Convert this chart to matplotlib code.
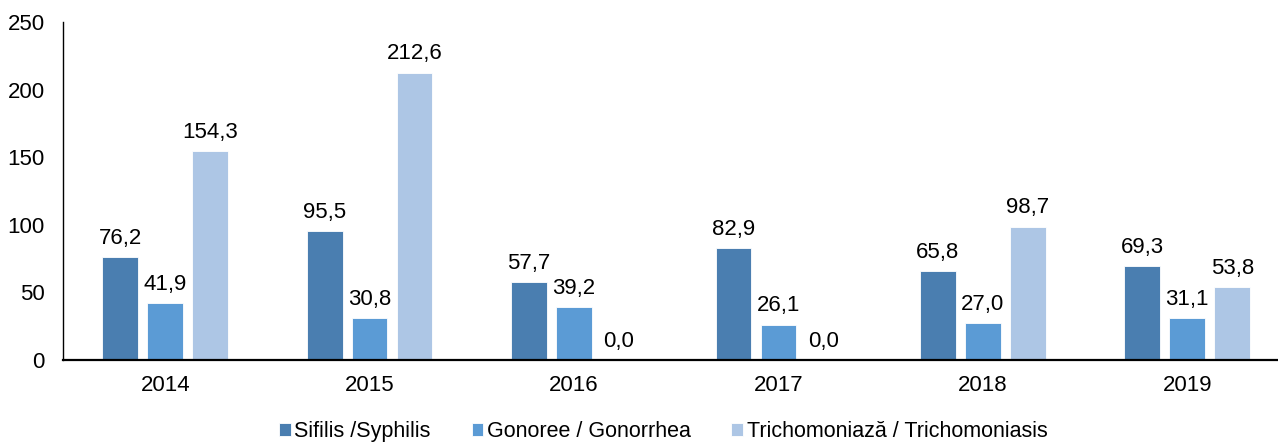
import numpy as np
import matplotlib.pyplot as plt

plt.rcParams['font.family'] = ['Liberation Sans', 'DejaVu Sans']

years = ['2014', '2015', '2016', '2017', '2018', '2019']
syphilis = [76.2, 95.5, 57.7, 82.9, 65.8, 69.3]
gonorrhea = [41.9, 30.8, 39.2, 26.1, 27.0, 31.1]
trichomoniasis = [154.3, 212.6, 0.0, 0.0, 98.7, 53.8]
series_names = ['Sifilis /Syphilis', 'Gonoree / Gonorrhea', 'Trichomoniază / Trichomoniasis']
colors = ['#4a7eb0', '#5b9bd5', '#adc6e5']

fig = plt.figure(figsize=(12.78, 4.45), dpi=100)
ax = fig.add_axes([63 / 1278, 85 / 445, 1215 / 1278, 338 / 445])

x = np.arange(len(years))
w = 0.175
step = 0.22
for i, (vals, name, c) in enumerate(zip([syphilis, gonorrhea, trichomoniasis], series_names, colors)):
    bars = ax.bar(x + (i - 1) * step, vals, w, color=c, edgecolor='white', linewidth=0.6, label=name)
    for b, v in zip(bars, vals):
        ax.annotate(f'{v:.1f}'.replace('.', ','), (b.get_x() + b.get_width() / 2, v),
                    xytext=(0, 6), textcoords='offset points', ha='center', va='bottom', fontsize=16)

ax.set_xlim(-0.5, 5.444)
ax.set_ylim(0, 250)
ax.set_yticks([0, 50, 100, 150, 200, 250])
ax.set_xticks(x)
ax.set_xticklabels(years)
ax.tick_params(axis='both', length=0, labelsize=16)
ax.tick_params(axis='x', pad=11)
ax.tick_params(axis='y', pad=13)
for s in ['top', 'right']:
    ax.spines[s].set_visible(False)
ax.spines['left'].set_linewidth(1.0)
ax.spines['bottom'].set_linewidth(1.6)

fig.legend(loc='lower center', bbox_to_anchor=(0.519, -0.036), ncol=3, frameon=False, fontsize=15.5,
           handlelength=0.55, handleheight=0.55, handletextpad=0.15, columnspacing=1.9)

fig.savefig('out.png', dpi=100)
